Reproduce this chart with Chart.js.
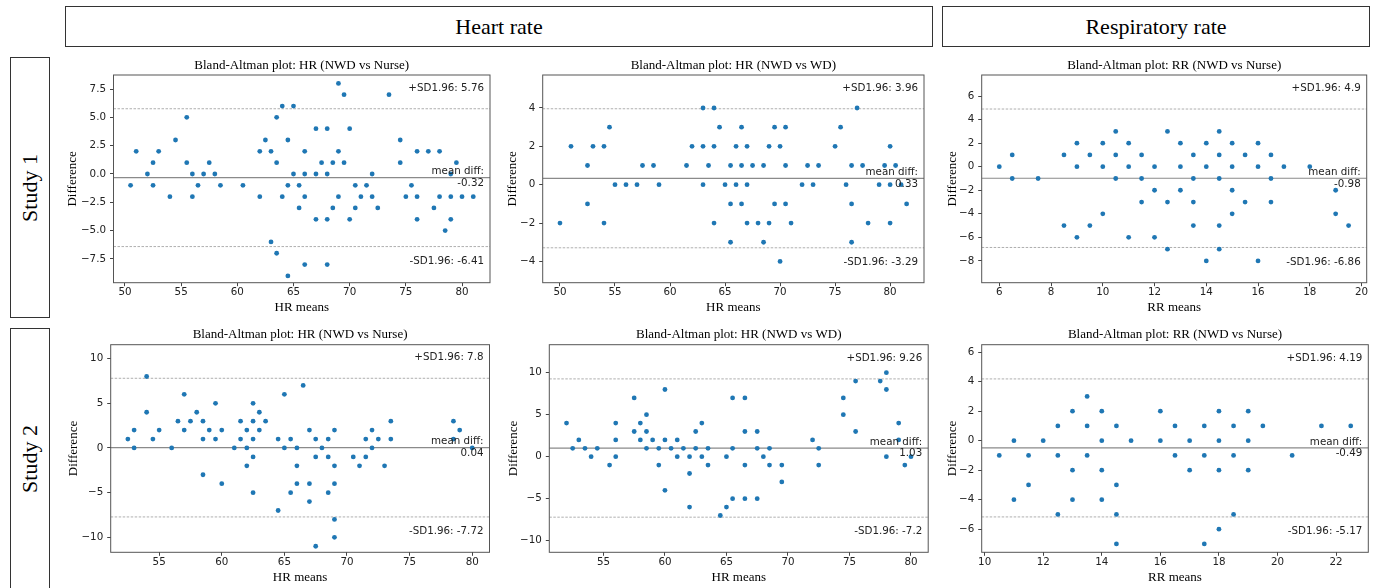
<!DOCTYPE html>
<html>
<head>
  <title>Bland-Altman plots</title>
  <script src="https://cdn.jsdelivr.net/npm/chart.js"></script>
  <style>
    body { margin: 0; background: #fff; width: 1378px; height: 588px; position: relative; overflow: hidden; }
    .box {
      position: absolute; border: 1px solid #333; box-sizing: border-box;
      display: flex; align-items: center; justify-content: center;
      font-family: "Liberation Serif", serif; font-size: 22px; color: #000;
    }
    .side span { transform: rotate(-90deg); white-space: nowrap; }
    canvas { position: absolute; }
  </style>
</head>
<body>
  <div class="box" style="left:65px;top:6px;width:868px;height:41px">Heart rate</div>
  <div class="box" style="left:942px;top:6px;width:428px;height:41px">Respiratory rate</div>
  <div class="box side" style="left:10px;top:57px;width:40px;height:261px"><span>Study 1</span></div>
  <div class="box side" style="left:10px;top:328px;width:40px;height:262px"><span>Study 2</span></div>

  <canvas id="p1"></canvas>
  <canvas id="p2"></canvas>
  <canvas id="p3"></canvas>
  <canvas id="p4"></canvas>
  <canvas id="p5"></canvas>
  <canvas id="p6"></canvas>

  <script>
    // Study 1 - HR, NWD vs Nurse
    const hr1NurseMeans = [50.5, 51, 52, 52.5, 52.5, 53, 54, 54.5, 55.5, 55.5, 56, 56, 56.5, 57, 57.5, 58, 58.5, 60.5,
      62, 62, 62.5, 63, 63, 63.5, 63.5, 63.5, 64, 64, 64.5, 64.5, 64.5, 65, 65, 65.5, 65.5,
      66, 66, 66, 66, 67, 67, 67, 67.5, 68, 68, 68, 68, 68.5, 68.5, 69, 69, 69, 69.5, 69.5, 70, 70,
      70.5, 70.5, 71, 71.5, 72, 72, 72.5, 73.5, 74.5, 74.5, 75, 75.5, 76, 76, 76, 77, 77.5, 78, 78,
      78.5, 79, 79, 79, 79.5, 80, 81];
    const hr1NurseDiffs = [-1, 2, 0, 1, -1, 2, -2, 3, 5, 1, 0, -2, -1, 0, 1, 0, -1, -1,
      2, -2, 3, 2, -6, 5, 1, -7, 6, -2, 3, -1, -9, 6, 0, -1, -3,
      2, 0, -2, -8, 4, 0, -4, 1, 4, 0, -4, -8, 1, -3, 8, 2, -2, 7, 1, 4, -4,
      -1, -3, -2, -1, 0, -2, -3, 7, 3, 1, -2, -1, 2, -2, -4, 2, -3, 2, -2,
      -5, 0, -2, -4, 1, -2, -2];
    const hr1NurseStats = [5.76, -0.32, -6.41];   // +SD1.96, mean diff, -SD1.96

    // Study 1 - HR, NWD vs WD
    const hr1WdMeans = [50, 51, 52.5, 52.5, 53, 54, 54, 54.5, 55, 56, 57, 57.5, 58.5, 59, 61.5, 62, 63, 63, 63, 63.5,
      64, 64, 64, 64.5, 65, 65.5, 65.5, 65.5, 66, 66, 66.5, 66.5, 66.5, 67, 67, 67, 67.5, 68, 68.5, 68.5,
      69, 69, 69.5, 69.5, 70, 70, 70.5, 70.5, 70.5, 71, 72, 72.5, 73, 73.5, 75, 75.5, 76, 76.5, 76.5, 76.5,
      77, 77.5, 78, 79, 79.5, 80, 80, 80, 80.5, 81, 81.5];
    const hr1WdDiffs = [-2, 2, 1, -1, 2, 2, -2, 3, 0, 0, 0, 1, 1, 0, 1, 2, 4, 2, 0, 1,
      4, 2, -2, 3, 0, 1, -1, -3, 2, 0, 3, 1, -1, 2, 0, -2, 1, -2, 1, -3,
      2, -2, 3, -1, 2, -4, 3, 1, -1, -2, 0, 1, 0, 1, 2, 3, 0, 1, -1, -3,
      4, 1, -2, 0, 1, 2, 0, -2, 1, 0, -1];
    const hr1WdStats = [3.96, 0.33, -3.29];

    // Study 1 - RR, NWD vs Nurse
    const rr1Means = [6, 6.5, 6.5, 7.5, 8.5, 8.5, 9, 9, 9, 9.5, 9.5, 10, 10, 10, 10.5, 10.5, 10.5, 11, 11, 11,
      11.5, 11.5, 11.5, 12, 12, 12, 12.5, 12.5, 12.5, 13, 13, 13, 13.5, 13.5, 13.5, 13.5, 14, 14, 14,
      14.5, 14.5, 14.5, 14.5, 14.5, 15, 15, 15, 15, 15.5, 15.5, 16, 16, 16, 16.5, 16.5, 16.5, 17, 18,
      19, 19, 19.5];
    const rr1Diffs = [0, 1, -1, -1, 1, -5, 2, 0, -6, 1, -5, 2, 0, -4, 3, 1, -1, 2, 0, -6,
      1, -1, -3, 0, -2, -6, 3, -3, -7, 2, 0, -2, 1, -1, -3, -5, 2, 0, -8,
      3, 1, -1, -5, -7, 2, 0, -2, -4, 1, -3, 2, 0, -8, 1, -1, -3, 0, 0,
      -2, -4, -5];
    const rr1Stats = [4.9, -0.98, -6.86];

    // Study 2 - HR, NWD vs Nurse
    const hr2NurseMeans = [52.5, 53, 53, 54, 54, 54.5, 55, 56, 56.5, 57, 57, 57.5, 58, 58.5, 58.5, 58.5, 59, 59.5, 59.5,
      60, 60, 61, 61.5, 61.5, 62, 62, 62, 62.5, 62.5, 62.5, 62.5, 62.5, 63, 63, 63.5, 64.5, 64.5,
      65, 65, 65.5, 65.5, 66, 66, 66, 66.5, 67, 67, 67, 67.5, 67.5, 67.5, 68, 68.5, 68.5, 68.5,
      69, 69, 69, 69, 69, 70.5, 71, 71.5, 71.5, 72, 72, 72.5, 73, 73.5, 73.5, 78.5, 78.5, 79, 80];
    const hr2NurseDiffs = [1, 2, 0, 8, 4, 1, 2, 0, 3, 6, 2, 3, 4, 3, 1, -3, 2, 5, 1,
      2, -4, 0, 3, 1, 2, 0, -2, 5, 3, 1, -1, -5, 4, 2, 3, 1, -7,
      6, 0, 1, -5, 0, -2, -4, 7, 2, -4, -6, 1, -1, -11, 0, 1, -1, -5,
      2, -2, -4, -8, -10, -1, -2, 1, -1, 2, 0, 1, -2, 3, 1, 3, 1, 2, 0];
    const hr2NurseStats = [7.8, 0.04, -7.72];

    // Study 2 - HR, NWD vs WD
    const hr2WdMeans = [52, 52.5, 53, 53.5, 54, 54.5, 55.5, 56, 56, 56, 57.5, 57.5, 58, 58, 58.5, 58.5, 58.5, 59,
      59.5, 59.5, 60, 60, 60, 60.5, 61, 61, 61.5, 62, 62, 62, 62.5, 62.5, 63, 63, 63.5, 63.5,
      64.5, 65, 65, 65.5, 65.5, 65.5, 66.5, 66.5, 66.5, 66.5, 67.5, 67.5, 67.5, 68, 68.5, 68.5,
      69.5, 69.5, 72, 72.5, 72.5, 74.5, 74.5, 75.5, 75.5, 77.5, 78, 78, 78, 79, 79, 79.5, 80];
    const hr2WdDiffs = [4, 1, 2, 1, 0, 1, -1, 4, 2, 0, 7, 3, 4, 2, 5, 3, 1, 2,
      1, -1, 8, 2, -4, 1, 2, 0, 1, 0, -2, -6, 3, 1, 4, 0, 1, -1,
      -7, -6, 0, 7, 1, -5, 7, 3, -1, -5, 3, 1, -5, 0, 1, -1,
      -1, -3, 2, 1, -1, 7, 5, 9, 3, 9, 10, 8, 0, 4, 2, -1, 0];
    const hr2WdStats = [9.26, 1.03, -7.2];

    // Study 2 - RR, NWD vs Nurse
    const rr2Means = [10.5, 11, 11, 11.5, 11.5, 12, 12.5, 12.5, 12.5, 13, 13, 13, 13.5, 13.5, 13.5,
      14, 14, 14, 14, 14.5, 14.5, 14.5, 14.5, 15, 16, 16, 16.5, 16.5, 17, 17, 17.5, 17.5, 17.5,
      18, 18, 18, 18, 18.5, 18.5, 18.5, 19, 19, 19, 19.5, 20.5, 21.5, 22.5];
    const rr2Diffs = [-1, 0, -4, -1, -3, 0, 1, -1, -5, 2, -2, -4, 3, 1, -1,
      2, 0, -2, -4, 1, -3, -5, -7, 0, 2, 0, 1, -1, 0, -2, 1, -1, -7,
      2, 0, -2, -6, 1, -1, -5, 2, 0, -2, 1, -1, 1, 1];
    const rr2Stats = [4.19, -0.49, -5.17];

    // tick labels
    const hrTicksA = [50, 55, 60, 65, 70, 75, 80];
    const hrTicksB = [55, 60, 65, 70, 75, 80];
    const rrTicks1 = [6, 8, 10, 12, 14, 16, 18, 20];
    const rrTicks2 = [10, 12, 14, 16, 18, 20, 22];
    const diffTicks1 = [-7.5, -5, -2.5, 0, 2.5, 5, 7.5];
    const diffTicks2 = [-4, -2, 0, 2, 4];
    const diffTicks3 = [-8, -6, -4, -2, 0, 2, 4, 6];
    const diffTicks4 = [-10, -5, 0, 5, 10];
    const diffTicks6 = [-6, -4, -2, 0, 2, 4, 6];

    const tickFont = { family: 'DejaVu Sans', size: 10.3 };
    const serif = 'Liberation Serif';

    // limit lines labels + frame
    const baText = {
      id: 'baText',
      afterDatasetsDraw(chart, args, opts) {
        const { ctx, chartArea: a } = chart;
        const y = chart.scales.y;
        const s = opts.stats;
        ctx.save();
        ctx.font = '10.3px "DejaVu Sans"';
        ctx.fillStyle = '#222';
        ctx.textAlign = 'right';
        ctx.textBaseline = 'middle';
        const tx = a.right - 6;
        ctx.fillText('+SD1.96: ' + s[0], tx, y.getPixelForValue(s[0]) - 20.5);
        ctx.fillText('mean diff:', tx, y.getPixelForValue(s[1]) - 6);
        ctx.fillText(String(s[1]), tx, y.getPixelForValue(s[1]) + 5.6);
        ctx.fillText('-SD1.96: ' + s[2], tx, y.getPixelForValue(s[2]) + 14.4);
        ctx.strokeStyle = '#555';
        ctx.lineWidth = 1;
        ctx.strokeRect(a.left, a.top, a.right - a.left, a.bottom - a.top);
        ctx.restore();
      }
    };

    function hline(v, xr, dashed) {
      return {
        data: [{ x: xr[0], y: v }, { x: xr[1], y: v }],
        showLine: true, pointRadius: 0,
        borderColor: dashed ? '#9a9a9a' : '#8a8a8a',
        borderWidth: dashed ? 0.8 : 1.2,
        borderDash: dashed ? [2.5, 1.5] : []
      };
    }

    function baPlot(id, frame, means, diffs, stats, xTicks, yTicks, xr, yr, title, xLabel, yDec) {
      const [L, T, R, B, ylabOff] = frame;
      const cl = Math.floor(L) - 60, ct = Math.floor(T) - 22;
      const w = Math.ceil(R) + 8 - cl, h = Math.ceil(B) + 34 - ct;
      const cv = document.getElementById(id);
      cv.width = w; cv.height = h;
      cv.style.left = cl + 'px'; cv.style.top = ct + 'px';

      const topH = T - ct, leftW = L - cl, botH = h - (B - ct);
      const tPadTop = (T - 9.8 - ct) - 7.8;
      const fmt = v => (yDec ? v.toFixed(yDec) : String(v)).replace('-', '\u2212');

      new Chart(cv, {
        type: 'scatter',
        data: {
          datasets: [
            {
              data: means.map((m, i) => ({ x: m, y: diffs[i] })),
              backgroundColor: '#1f77b4', borderWidth: 0, pointRadius: 2.4
            },
            hline(stats[1], xr, false),
            hline(stats[0], xr, true),
            hline(stats[2], xr, true)
          ]
        },
        options: {
          responsive: false, animation: false,
          layout: { padding: { left: 0, top: 0, bottom: 0, right: w - (R - cl) } },
          plugins: {
            legend: { display: false },
            tooltip: { enabled: false },
            title: {
              display: true, text: title, fullSize: false, color: '#000',
              font: { family: serif, size: 13, weight: 'normal' },
              padding: { top: tPadTop, bottom: topH - 15.6 - tPadTop }
            },
            baText: { stats: stats }
          },
          scales: {
            x: {
              type: 'linear', min: xr[0], max: xr[1],
              afterBuildTicks: s => { s.ticks = xTicks.map(v => ({ value: v })); },
              afterFit: s => { s.height = botH; },
              grid: { drawOnChartArea: false, tickLength: 3.5, color: '#444' },
              border: { display: false },
              ticks: { font: tickFont, color: '#222', padding: 0, maxRotation: 0, autoSkip: false },
              title: {
                display: true, text: xLabel, color: '#000',
                font: { family: serif, size: 13 },
                padding: { top: 0, bottom: botH - 24.8 - 7.8 }
              }
            },
            y: {
              type: 'linear', min: yr[0], max: yr[1],
              afterBuildTicks: s => { s.ticks = yTicks.map(v => ({ value: v })); },
              afterFit: s => { s.width = leftW; },
              grid: { drawOnChartArea: false, tickLength: 3.5, color: '#444' },
              border: { display: false },
              ticks: { font: tickFont, color: '#222', padding: 4, autoSkip: false, callback: v => fmt(v) },
              title: {
                display: true, text: 'Difference', color: '#000',
                font: { family: serif, size: 13 },
                padding: { top: leftW - ylabOff - 7.8, bottom: 0 }
              }
            }
          }
        },
        plugins: [baText]
      });
    }

    baPlot('p1', [113.5, 75, 490, 282.7, 40.8], hr1NurseMeans, hr1NurseDiffs, hr1NurseStats,
      hrTicksA, diffTicks1, [48.98, 82.49], [-9.6, 8.74], 'Bland-Altman plot: HR (NWD vs Nurse)', 'HR means', 1);
    baPlot('p2', [542.7, 75, 924, 282.7, 30.4], hr1WdMeans, hr1WdDiffs, hr1WdStats,
      hrTicksA, diffTicks2, [48.43, 83.08], [-5.11, 5.72], 'Bland-Altman plot: HR (NWD vs WD)', 'HR means', 0);
    baPlot('p3', [981.7, 75, 1366.7, 282.7, 29.4], rr1Means, rr1Diffs, rr1Stats,
      rrTicks1, diffTicks3, [5.32, 20.2], [-9.85, 7.79], 'Bland-Altman plot: RR (NWD vs Nurse)', 'RR means', 0);
    baPlot('p4', [110.7, 344.7, 489.5, 552.3, 37.4], hr2NurseMeans, hr2NurseDiffs, hr2NurseStats,
      hrTicksB, diffTicks4, [51.13, 81.38], [-11.68, 11.56], 'Bland-Altman plot: HR (NWD vs Nurse)', 'HR means', 0);
    baPlot('p5', [549.3, 344.7, 928.2, 552.3, 36], hr2WdMeans, hr2WdDiffs, hr2WdStats,
      hrTicksB, diffTicks4, [50.6, 81.4], [-11.38, 13.33], 'Bland-Altman plot: HR (NWD vs WD)', 'HR means', 0);
    baPlot('p6', [981.7, 344.7, 1368.3, 552.3, 29.4], rr2Means, rr2Diffs, rr2Stats,
      rrTicks2, diffTicks6, [9.9, 23.1], [-7.57, 6.51], 'Bland-Altman plot: RR (NWD vs Nurse)', 'RR means', 0);
  </script>
</body>
</html>
